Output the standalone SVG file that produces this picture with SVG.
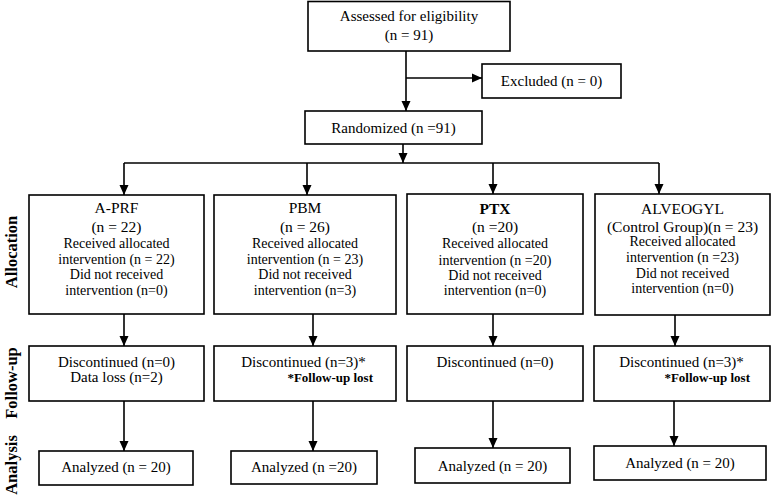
<svg xmlns="http://www.w3.org/2000/svg" width="777" height="495" viewBox="0 0 777 495">
<style>
text{font-family:'Liberation Serif','DejaVu Serif',serif}
.box{fill:#fff;stroke:#000;stroke-width:1.6}
.t{font-size:15px;fill:#000;text-anchor:middle}
.h{font-size:15.5px}
.b{font-size:14px}
.s{font-size:13px;font-weight:bold;fill:#000;text-anchor:end}
.side{font-size:16.5px;font-weight:bold;fill:#000;text-anchor:middle}
.c{fill:none;stroke:#000;stroke-width:1.6}
</style>
<defs>
<marker id="ah" markerUnits="userSpaceOnUse" markerWidth="10" markerHeight="10" viewBox="0 0 10 10" refX="10" refY="5" orient="auto">
<path d="M0,0.5 L10,5 L0,9.5 Z" fill="#000"/>
</marker>
</defs>
<rect width="777" height="495" fill="#fff"/>

<g id="side-labels">
<text class="side" transform="translate(17,252) rotate(-90)">Allocation</text>
<text class="side" transform="translate(17,383) rotate(-90)">Follow-up</text>
<text class="side" transform="translate(17,465) rotate(-90)">Analysis</text>
</g>

<g id="connectors">
<path class="c" d="M406,51 V111" marker-end="url(#ah)"/>
<path class="c" d="M406,78 H482" marker-end="url(#ah)"/>
<path class="c" d="M403,144 V163" marker-end="url(#ah)"/>
<path class="c" d="M124,163 H659"/>
<path class="c" d="M124,163 V195" marker-end="url(#ah)"/>
<path class="c" d="M307,163 V195" marker-end="url(#ah)"/>
<path class="c" d="M493,163 V194" marker-end="url(#ah)"/>
<path class="c" d="M659,163 V194" marker-end="url(#ah)"/>
<path class="c" d="M124,314 V346" marker-end="url(#ah)"/>
<path class="c" d="M313,314 V346" marker-end="url(#ah)"/>
<path class="c" d="M493,314 V346" marker-end="url(#ah)"/>
<path class="c" d="M675,315 V346" marker-end="url(#ah)"/>
<path class="c" d="M124,401 V451" marker-end="url(#ah)"/>
<path class="c" d="M313,401 V451" marker-end="url(#ah)"/>
<path class="c" d="M493,401 V448" marker-end="url(#ah)"/>
<path class="c" d="M674,401 V446" marker-end="url(#ah)"/>
</g>

<g id="assessed">
<rect class="box" x="308" y="1.5" width="202" height="49.5"/>
<text class="t" x="409" y="21">Assessed for eligibility</text>
<text class="t" x="409" y="40">(n = 91)</text>
</g>
<g id="excluded">
<rect class="box" x="482" y="64" width="139" height="34"/>
<text class="t" x="551.5" y="86">Excluded (n = 0)</text>
</g>
<g id="randomized">
<rect class="box" x="305" y="111" width="177" height="33"/>
<text class="t" x="393.5" y="133">Randomized (n =91)</text>
</g>

<g id="alloc-aprf">
<rect class="box" x="29" y="195" width="175" height="119"/>
<text class="t h" x="116.5" y="213">A-PRF</text>
<text class="t h" x="116.5" y="232">(n = 22)</text>
<text class="t b" x="116.5" y="248">Received allocated</text>
<text class="t b" x="116.5" y="264">intervention (n = 22)</text>
<text class="t b" x="116.5" y="279">Did not received</text>
<text class="t b" x="116.5" y="295">intervention (n=0)</text>
</g>
<g id="alloc-pbm">
<rect class="box" x="214" y="195" width="182" height="119"/>
<text class="t h" x="305" y="213">PBM</text>
<text class="t h" x="305" y="232">(n = 26)</text>
<text class="t b" x="305" y="248">Received allocated</text>
<text class="t b" x="305" y="264">intervention (n = 23)</text>
<text class="t b" x="305" y="279">Did not received</text>
<text class="t b" x="305" y="295">intervention (n=3)</text>
</g>
<g id="alloc-ptx">
<rect class="box" x="407" y="194" width="176" height="120"/>
<text class="t h" x="495" y="214" font-weight="bold">PTX</text>
<text class="t h" x="495" y="232">(n =20)</text>
<text class="t b" x="495" y="248">Received allocated</text>
<text class="t b" x="495" y="265">intervention (n =20)</text>
<text class="t b" x="495" y="280">Did not received</text>
<text class="t b" x="495" y="295">intervention (n=0)</text>
</g>
<g id="alloc-alveogyl">
<rect class="box" x="595" y="194" width="175" height="121"/>
<text class="t h" x="682.5" y="214">ALVEOGYL</text>
<text class="t h" x="682.5" y="232">(Control Group)(n = 23)</text>
<text class="t b" x="682.5" y="246">Received allocated</text>
<text class="t b" x="682.5" y="262">intervention (n =23)</text>
<text class="t b" x="682.5" y="278">Did not received</text>
<text class="t b" x="682.5" y="293">intervention (n=0)</text>
</g>

<g id="follow-aprf">
<rect class="box" x="29" y="346" width="175" height="55"/>
<text class="t" x="116.5" y="367">Discontinued (n=0)</text>
<text class="t" x="116.5" y="382">Data loss (n=2)</text>
</g>
<g id="follow-pbm">
<rect class="box" x="214" y="346" width="182" height="55"/>
<text class="t" x="303.5" y="367">Discontinued (n=3)*</text>
<text class="s" x="373" y="382">*Follow-up lost</text>
</g>
<g id="follow-ptx">
<rect class="box" x="407" y="346" width="176" height="55"/>
<text class="t" x="495" y="367">Discontinued (n=0)</text>
</g>
<g id="follow-alveogyl">
<rect class="box" x="594" y="346" width="176" height="55"/>
<text class="t" x="681.5" y="367">Discontinued (n=3)*</text>
<text class="s" x="750" y="382">*Follow-up lost</text>
</g>

<g id="anal-aprf">
<rect class="box" x="39" y="451" width="154" height="34"/>
<text class="t" x="116" y="472">Analyzed (n = 20)</text>
</g>
<g id="anal-pbm">
<rect class="box" x="231" y="451" width="146" height="33"/>
<text class="t" x="304" y="472">Analyzed (n =20)</text>
</g>
<g id="anal-ptx">
<rect class="box" x="415" y="448" width="155" height="35"/>
<text class="t" x="492.5" y="471">Analyzed (n = 20)</text>
</g>
<g id="anal-alveogyl">
<rect class="box" x="594" y="446" width="172" height="34"/>
<text class="t" x="680" y="468">Analyzed (n = 20)</text>
</g>
</svg>
